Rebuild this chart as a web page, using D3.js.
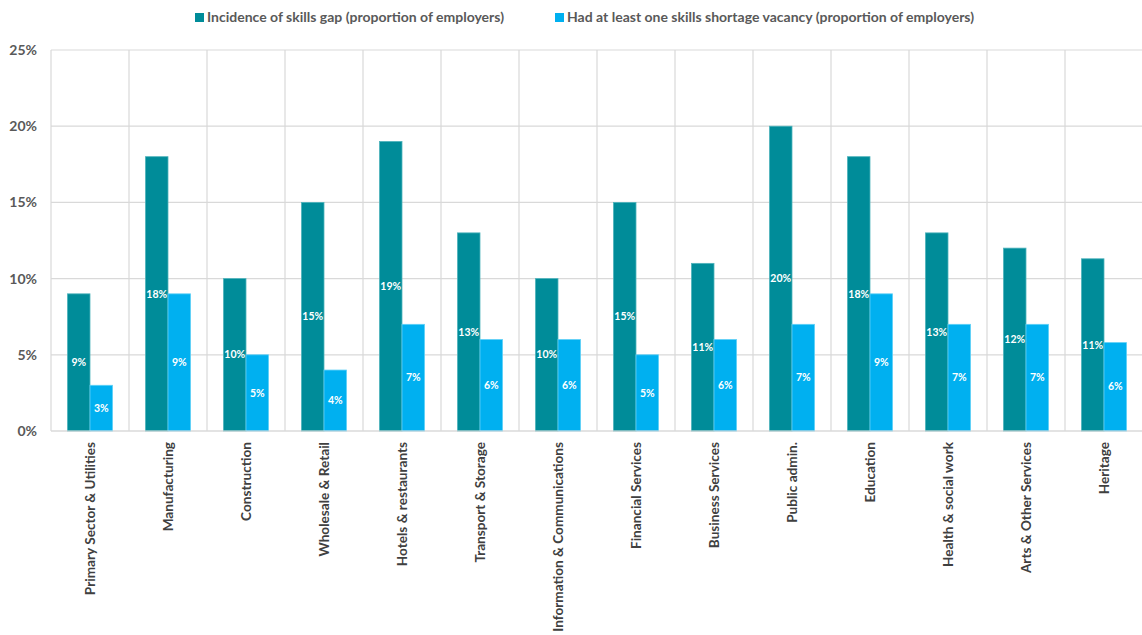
<!DOCTYPE html>
<html><head><meta charset="utf-8">
<script src="https://cdn.jsdelivr.net/npm/d3@7"></script>
<style>body{margin:0;background:#fff}svg{display:block}</style>
</head><body><svg id="c" width="1142" height="635"></svg>
<script>
const categories = ["Primary Sector & Utilities","Manufacturing","Construction","Wholesale & Retail","Hotels & restaurants","Transport & Storage","Information & Communications","Financial Services","Business Services","Public admin.","Education","Health & social work","Arts & Other Services","Heritage"];
const skillsGap = [9,18,10,15,19,13,10,15,11,20,18,13,12,11.3];
const shortageVacancy = [3,9,5,4,7,6,6,5,6,7,9,7,7,5.8];
const seriesNames = ["Incidence of skills gap (proportion of employers)","Had at least one skills shortage vacancy (proportion of employers)"];
const yTicks = [0,5,10,15,20,25];
const colors = ["#008C99","#00B0F0"];
const font = "Lato, 'Open Sans', sans-serif";

const svg = d3.select("#c");
const m = {l:51, r:1143, t:50, b:431};
const x = d3.scaleBand().domain(categories).range([m.l, m.r]).paddingInner(0).paddingOuter(0);
const y = d3.scaleLinear().domain([0,25]).range([m.b, m.t]);
const sub = d3.scaleBand().domain([0,1]).range([0, x.bandwidth()]).paddingOuter(0.73).paddingInner(0);

// horizontal grid
svg.append("g").selectAll("line").data(yTicks).join("line")
  .attr("x1", m.l).attr("x2", m.r).attr("y1", d=>y(d)).attr("y2", d=>y(d))
  .attr("stroke", "#d9d9d9").attr("stroke-width", 1.2);
// vertical grid
svg.append("g").selectAll("line").data(categories).join("line")
  .attr("x1", d=>x(d)).attr("x2", d=>x(d)).attr("y1", m.t).attr("y2", m.b)
  .attr("stroke", "#d9d9d9").attr("stroke-width", 1.2);

// y axis labels
const yAxis = d3.axisLeft(y).tickValues(yTicks).tickFormat(d=>d+"%").tickSize(0).tickPadding(14);
const ya = svg.append("g").attr("transform",`translate(${m.l},0)`).call(yAxis);
ya.select(".domain").remove();
ya.selectAll("text").attr("font-family", font).attr("font-weight","bold").attr("font-size", 14).attr("fill","#595959");

// bars
const series = [skillsGap, shortageVacancy];
series.forEach((vals, si) => {
  const g = svg.append("g");
  g.selectAll("rect").data(vals).join("rect")
    .attr("x", (d,i)=>x(categories[i]) + sub(si))
    .attr("width", sub.bandwidth())
    .attr("y", d=>y(d))
    .attr("height", d=>y(0)-y(d))
    .attr("fill", colors[si])
    .attr("stroke", si===0 ? "#4fb3bc" : "#5fd0f7").attr("stroke-width", 0.8);
  g.selectAll("text").data(vals).join("text")
    .attr("x", (d,i)=>x(categories[i]) + sub(si) + sub.bandwidth()/2)
    .attr("y", d=>(y(d)+y(0))/2)
    .attr("dy","0.35em").attr("text-anchor","middle")
    .attr("font-family", font).attr("font-weight","bold").attr("font-size", 10.5)
    .attr("fill","#fff").text(d=>Math.round(d)+"%");
});

// bottom axis line
svg.append("line").attr("x1", m.l).attr("x2", m.r).attr("y1", m.b).attr("y2", m.b).attr("stroke","#d9d9d9").attr("stroke-width",1.2);

// x labels
const xAxis = d3.axisBottom(x).tickSize(0).tickPadding(0);
const xa = svg.append("g").attr("transform",`translate(0,${m.b})`).call(xAxis);
xa.select(".domain").remove();
xa.selectAll("text")
  .attr("transform","rotate(-90)")
  .attr("x",-11).attr("y",0).attr("dy","0.35em")
  .attr("text-anchor","end")
  .attr("font-family", font).attr("font-weight","bold").attr("font-size", 13.6).attr("fill","#404040");

// legend
const legX = [195, 555];
const lg = svg.append("g");
seriesNames.forEach((n,i)=>{
  lg.append("rect").attr("x", legX[i]).attr("y", 13).attr("width", 9).attr("height", 9).attr("fill", colors[i]);
  lg.append("text").attr("x", legX[i]+12).attr("y", 17.5).attr("dy","0.35em")
    .attr("font-family", font).attr("font-weight","bold").attr("font-size", 14).attr("fill","#595959").text(n);
});
</script></body></html>
